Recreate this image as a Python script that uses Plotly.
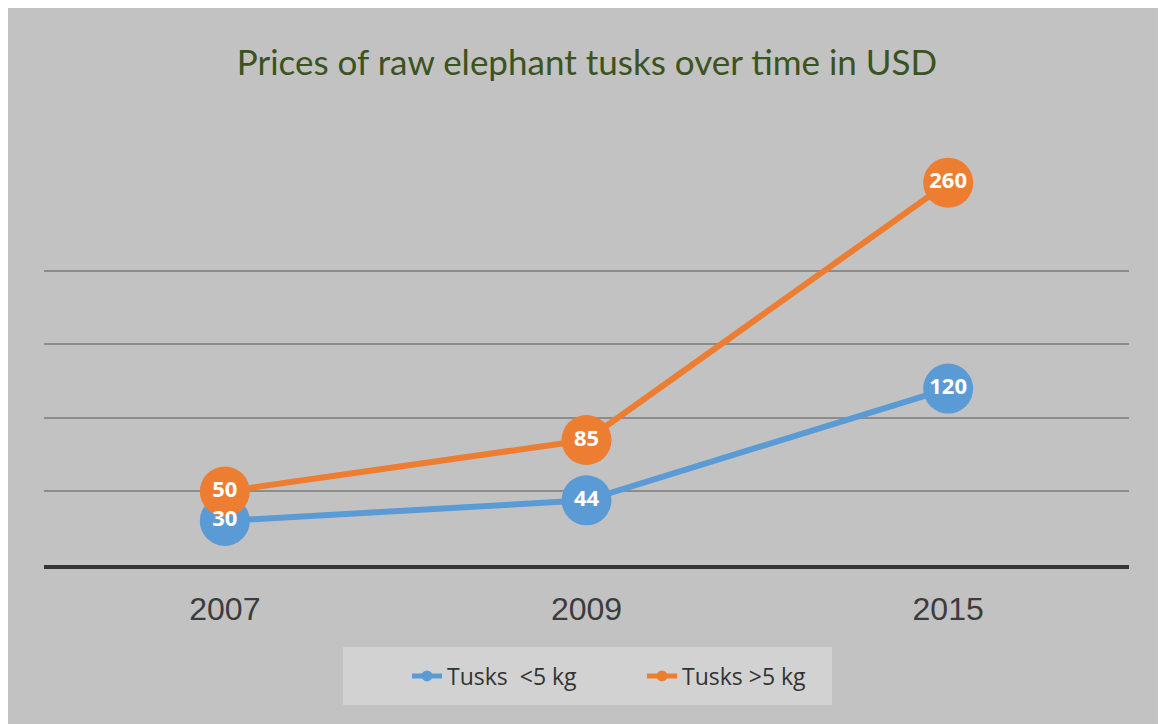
import plotly.graph_objects as go

years = ["2007", "2009", "2015"]
small_tusks = [30, 44, 120]
large_tusks = [50, 85, 260]
series_names = ["Tusks  <5 kg", "Tusks >5 kg"]
grid_values = [50, 100, 150, 200]

BLUE = "#5b9bd5"
ORANGE = "#ed7d31"

series = [(series_names[0], small_tusks, BLUE), (series_names[1], large_tusks, ORANGE)]

fig = go.Figure()
for name, vals, col in series:
    fig.add_trace(go.Scatter(
        x=years, y=vals, mode="lines+markers",
        line=dict(color=col, width=6),
        marker=dict(size=50, color=col),
        showlegend=False, cliponaxis=False, hoverinfo="skip",
    ))
# data labels drawn above every marker
for name, vals, col in series:
    fig.add_trace(go.Scatter(
        x=years, y=vals, mode="text",
        text=[str(v) for v in vals], textposition="middle center",
        textfont=dict(family="Open Sans", size=22, color="white", weight="bold"),
        showlegend=False, cliponaxis=False, hoverinfo="skip",
    ))
for name, vals, col in series:
    fig.add_trace(go.Scatter(
        x=[None], y=[None], mode="lines+markers", name=name,
        line=dict(color=col, width=5), marker=dict(size=11, color=col),
    ))

# figure pixel geometry (page has an 8px body margin)
FW, FH = 1158, 716
L, R, T, B = 36, 1121, 160, 557
pw = R - L
ph = B - T

def px(x):
    return (x - L) / pw

def py(y):
    return (B - y) / ph

# legend box
fig.add_shape(type="rect", xref="paper", yref="paper", layer="below",
              x0=px(335), x1=px(824), y0=py(697), y1=py(639),
              fillcolor="#d2d2d2", line=dict(width=0))

fig.update_layout(
    width=FW, height=FH,
    margin=dict(l=L, r=FW - R, t=T, b=FH - B),
    paper_bgcolor="#c2c2c2", plot_bgcolor="rgba(0,0,0,0)",
    title=dict(text="Prices of raw elephant tusks over time in USD",
               x=0.5, xanchor="center", y=1 - 55 / FH, yanchor="middle",
               font=dict(family="Lato", size=35, color="#3b5320")),
    xaxis=dict(type="category", range=[-0.5, 2.5], showgrid=False,
               showline=True, linecolor="#353535", linewidth=4,
               ticks="", ticklabelstandoff=13,
               tickfont=dict(family="Liberation Sans", size=32, color="#3c3c3c")),
    yaxis=dict(range=[0, 270], tickvals=grid_values, showticklabels=False,
               showgrid=True, gridcolor="#8c8c8c", gridwidth=1.5,
               zeroline=False, showline=False),
    legend=dict(orientation="h", x=px(634), xanchor="center",
                y=py(668), yanchor="middle",
                bgcolor="rgba(0,0,0,0)",
                font=dict(family="Open Sans", size=23, color="#333333"),
                entrywidth=190, entrywidthmode="pixels"),
    showlegend=True,
)
fig.write_html("out.html")
